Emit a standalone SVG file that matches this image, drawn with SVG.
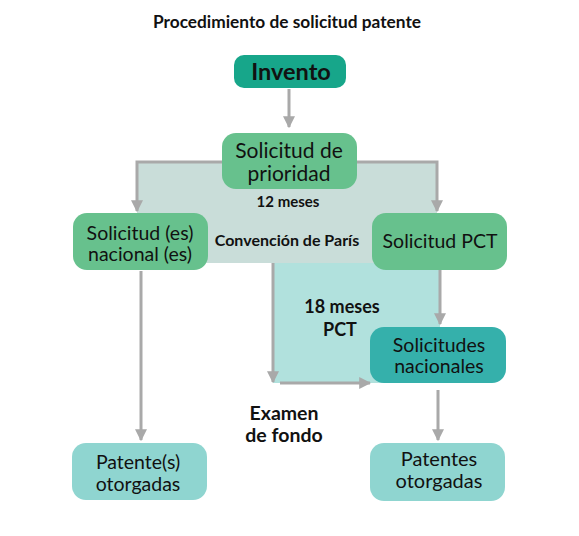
<svg xmlns="http://www.w3.org/2000/svg" width="579" height="536" viewBox="0 0 579 536">
<style>
text{font-family:Lato,"Open Sans","Liberation Sans",sans-serif;text-anchor:middle;fill:#111}
.b{font-weight:bold}
.n{font-size:19.5px}
.ln{stroke:#a9a9a9;stroke-width:3;fill:none}
</style>
<defs>
<marker id="ah" viewBox="0 0 10 10" refX="9" refY="5" markerWidth="4" markerHeight="4" markerUnits="strokeWidth" orient="auto">
<path d="M0,0 L10,5 L0,10 z" fill="#a9a9a9"/>
</marker>
</defs>
<rect width="579" height="536" fill="#fff"/>
<text x="287" y="28" class="b" style="font-size:17.3px">Procedimiento de solicitud patente</text>
<g id="regions">
<rect x="137" y="162" width="300" height="101" fill="#c9ddd9"/>
<rect x="273" y="263" width="167" height="120" fill="#b1e1dd"/>
</g>
<g id="connectors">
<path class="ln" d="M289,89 V127" marker-end="url(#ah)"/>
<path class="ln" d="M224,162 H137 V211" marker-end="url(#ah)"/>
<path class="ln" d="M355,162 H437 V211" marker-end="url(#ah)"/>
<path class="ln" d="M440,270 V324" marker-end="url(#ah)"/>
<path class="ln" d="M273,263 V382" marker-end="url(#ah)"/>
<path class="ln" d="M280,383 H370" marker-end="url(#ah)"/>
<path class="ln" d="M141,271 V440" marker-end="url(#ah)"/>
<path class="ln" d="M438,390 V440" marker-end="url(#ah)"/>
</g>
<g id="invento">
<rect x="234" y="55" width="112" height="33" rx="10" fill="#17a68a"/>
<text x="291" y="80" class="b" style="font-size:23.5px">Invento</text>
</g>
<g id="prioridad">
<rect x="222" y="133" width="135" height="56" rx="14" fill="#67c18d"/>
<text x="289" y="158" style="font-size:21px">Solicitud de</text>
<text x="289" y="181" style="font-size:21px">prioridad</text>
</g>
<g id="nacional">
<rect x="73" y="213" width="135" height="57" rx="14" fill="#67c18d"/>
<text x="140" y="240" class="n">Solicitud (es)</text>
<text x="140" y="261" class="n">nacional (es)</text>
</g>
<g id="pct">
<rect x="372" y="213" width="135" height="57" rx="14" fill="#67c18d"/>
<text x="440" y="248" class="n">Solicitud PCT</text>
</g>
<g id="nacionales">
<rect x="370" y="327" width="136" height="56" rx="14" fill="#35b0ab"/>
<text x="439" y="352" class="n">Solicitudes</text>
<text x="439" y="373" class="n">nacionales</text>
</g>
<g id="patente-izq">
<rect x="72" y="443" width="135" height="57" rx="14" fill="#8fd5d0"/>
<text x="138" y="469" class="n">Patente(s)</text>
<text x="138" y="491" class="n">otorgadas</text>
</g>
<g id="patente-der">
<rect x="370" y="443" width="135" height="58" rx="14" fill="#8fd5d0"/>
<text x="439" y="466" style="font-size:20px">Patentes</text>
<text x="439" y="488" style="font-size:20px">otorgadas</text>
</g>
<g id="labels">
<text x="288" y="207" class="b" style="font-size:15px">12 meses</text>
<text x="287" y="246" class="b" style="font-size:16px">Convención de París</text>
<text x="342" y="313" class="b" style="font-size:18px">18 meses</text>
<text x="340" y="336" class="b" style="font-size:18px">PCT</text>
<text x="284" y="420" class="b" style="font-size:19.5px">Examen</text>
<text x="284" y="442" class="b" style="font-size:19.5px">de fondo</text>
</g>
</svg>
